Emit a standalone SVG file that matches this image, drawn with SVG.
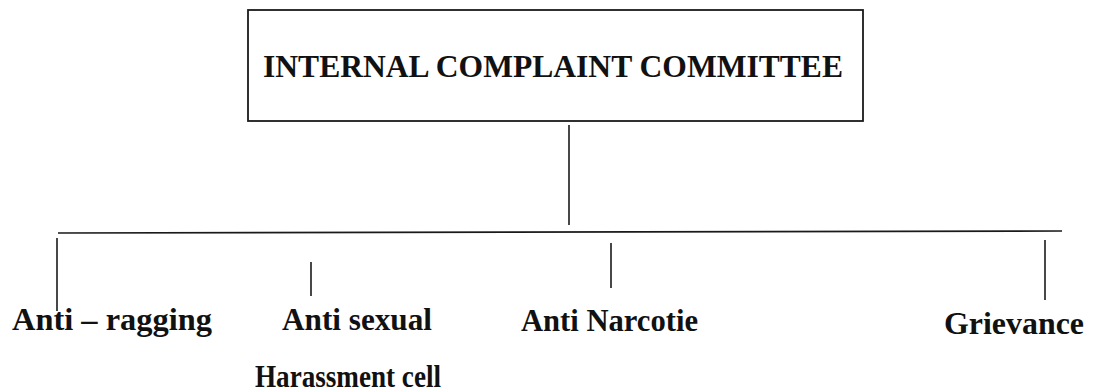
<svg xmlns="http://www.w3.org/2000/svg" width="1094" height="392" viewBox="0 0 1094 392">
<style>
.ln{stroke:#1a1a1a;stroke-width:1.6;fill:none}
.box{stroke:#1a1a1a;stroke-width:1.8;fill:#fff}
.t{font-family:"Liberation Serif","Times New Roman",serif;font-weight:bold;fill:#111}
.lb{font-family:"Liberation Serif","Times New Roman",serif;font-weight:bold;font-size:31px;fill:#111}
</style>
<rect width="1094" height="392" fill="#fff"/>
<g id="icc">
<rect class="box" x="248" y="10" width="615" height="111"/>
<text class="t" x="263" y="77" font-size="31.5" textLength="580" lengthAdjust="spacingAndGlyphs">INTERNAL COMPLAINT COMMITTEE</text>
</g>
<g id="connectors">
<line class="ln" x1="569" y1="125" x2="569" y2="225"/>
<line class="ln" x1="58" y1="233" x2="1062" y2="231"/>
<line class="ln" x1="57" y1="238" x2="57" y2="311"/>
<line class="ln" x1="311" y1="262" x2="311" y2="296"/>
<line class="ln" x1="611" y1="243" x2="611" y2="288"/>
<line class="ln" x1="1045" y1="240" x2="1045" y2="300"/>
</g>
<g id="anti-ragging">
<text class="lb" x="12" y="330" textLength="200" lengthAdjust="spacingAndGlyphs">Anti – ragging</text>
</g>
<g id="anti-sexual">
<text class="lb" x="282" y="330" textLength="150" lengthAdjust="spacingAndGlyphs">Anti sexual</text>
<text class="lb" x="255" y="387" textLength="186" lengthAdjust="spacingAndGlyphs">Harassment cell</text>
</g>
<g id="anti-narcotie">
<text class="lb" x="521" y="331" textLength="177" lengthAdjust="spacingAndGlyphs">Anti Narcotie</text>
</g>
<g id="grievance">
<text class="lb" x="944" y="334" textLength="140" lengthAdjust="spacingAndGlyphs">Grievance</text>
</g>
</svg>
